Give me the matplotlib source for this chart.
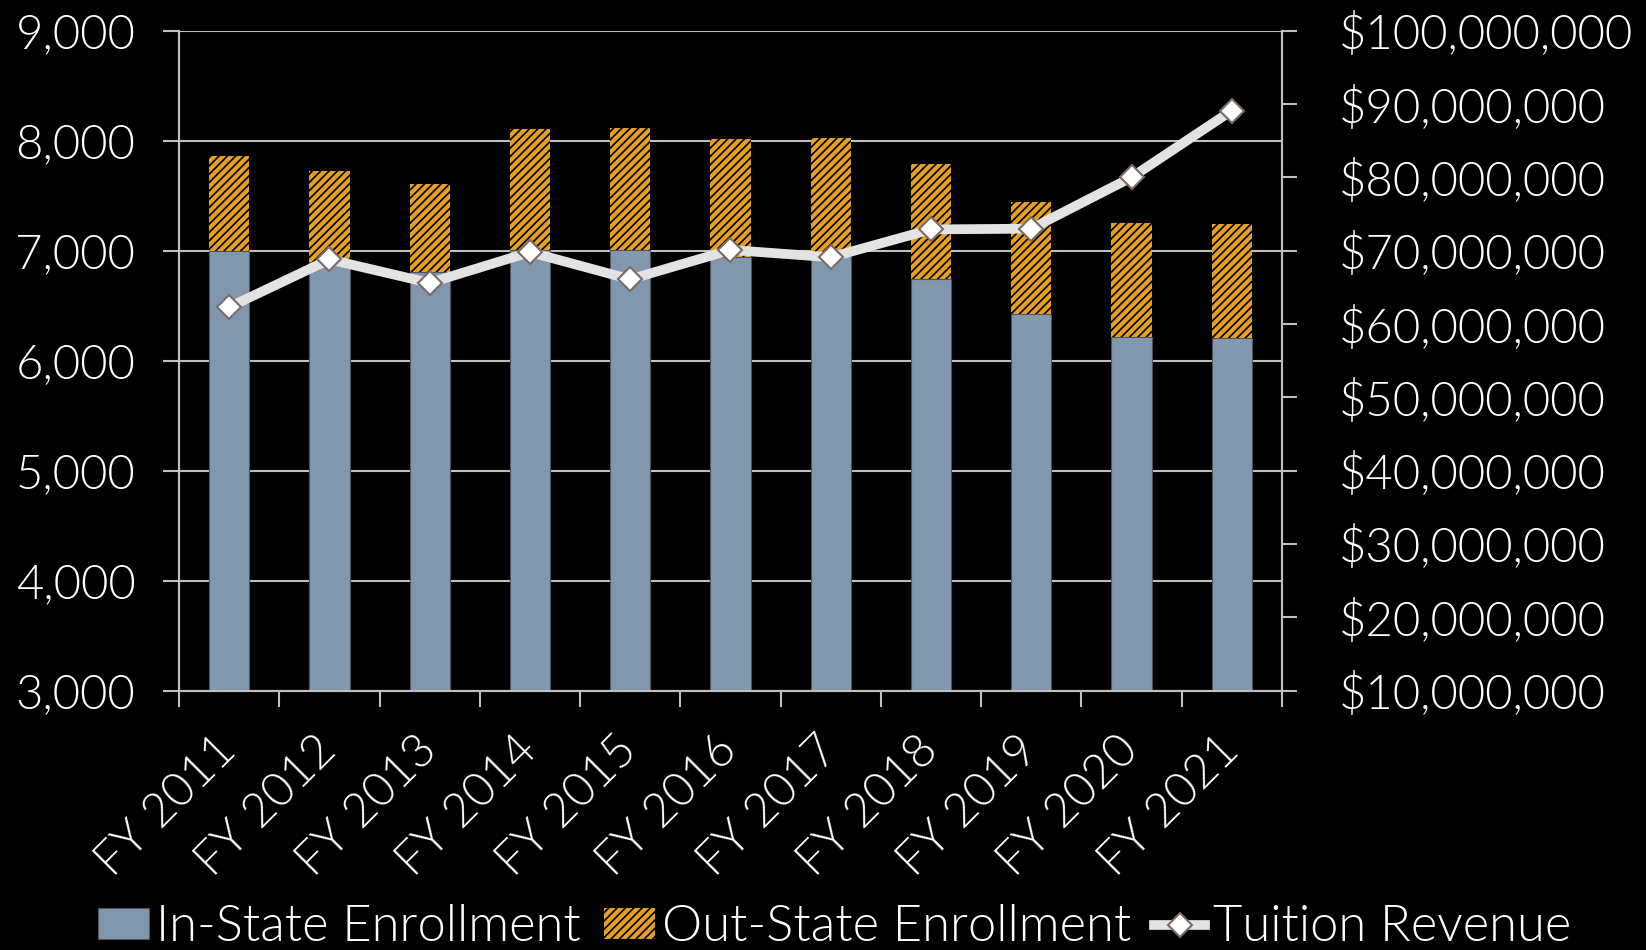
import matplotlib
matplotlib.use('Agg')
import matplotlib.pyplot as plt
from matplotlib.ticker import FuncFormatter, FixedLocator
import numpy as np

plt.rcParams['font.family'] = ['Lato', 'DejaVu Sans']
plt.rcParams['font.weight'] = 300
plt.rcParams['hatch.linewidth'] = 1.2

years = ['FY 2011', 'FY 2012', 'FY 2013', 'FY 2014', 'FY 2015', 'FY 2016',
         'FY 2017', 'FY 2018', 'FY 2019', 'FY 2020', 'FY 2021']
in_state = [7000, 6900, 6810, 7010, 7005, 6940, 6950, 6745, 6425, 6215, 6210]
out_state = [865, 825, 795, 1095, 1108, 1073, 1070, 1045, 1015, 1037, 1033]
# tuition revenue in dollars
revenue = [62.3e6, 68.8e6, 65.6e6, 69.8e6, 66.1e6, 70.1e6, 69.1e6,
           72.9e6, 73.0e6, 80.0e6, 89.1e6]

fs = 34
grid_c = '#BFBFBF'

fig = plt.figure(figsize=(16.46, 9.5), dpi=100, facecolor='black')
ax1 = fig.add_axes([0.1088, 0.273, 0.67, 0.6947], facecolor='black')
ax2 = ax1.twinx()

x = np.arange(len(years))
ax1.bar(x, in_state, width=0.4, color='#8097AD', edgecolor='#4a5560',
        linewidth=0.8, label='In-State Enrollment', zorder=2)
ax1.bar(x, out_state, width=0.4, bottom=in_state, color='#E6A01E',
        edgecolor='black', linewidth=0, hatch='////',
        label='Out-State Enrollment', zorder=2)

ax2.plot(x, revenue, color='#E3E3E3', linewidth=7, marker='D',
         markersize=12.5, markerfacecolor='white', markeredgecolor='#7A6A64',
         markeredgewidth=1.5, label='Tuition Revenue', zorder=3)

ax1.set_xlim(-0.5, len(years) - 0.5)
ax1.set_ylim(3000, 9000)
ax1.set_yticks(range(3000, 9001, 1000))
ax1.yaxis.set_major_formatter(FuncFormatter(lambda v, p: f'{v:,.0f}'))
ax1.grid(axis='y', color=grid_c, linewidth=1.5, zorder=0)
ax1.set_axisbelow(True)

ax2.set_ylim(10e6, 100e6)
ax2.set_yticks(np.arange(10e6, 100e6 + 1, 10e6))
ax2.yaxis.set_major_formatter(FuncFormatter(lambda v, p: f'${v:,.0f}'))

# category labels at centers, tick marks at boundaries
ax1.set_xticks(x)
ax1.set_xticklabels(years, rotation=45, ha='right', va='center',
                    rotation_mode='anchor')
ax1.xaxis.set_minor_locator(FixedLocator(np.arange(-0.5, len(years), 1)))
ax1.tick_params(axis='x', which='major', length=0, pad=38, colors='white',
                labelsize=fs)
ax1.tick_params(axis='x', which='minor', length=11.5, width=1.5, color=grid_c)
ax1.tick_params(axis='y', length=11.5, width=1.5, color=grid_c, pad=20,
                labelcolor='white', labelsize=fs)
ax2.tick_params(axis='y', length=11, width=1.5, color=grid_c, pad=30,
                labelcolor='white', labelsize=fs)

for ax in (ax1, ax2):
    ax.spines['top'].set_visible(False)
    for s in ('left', 'right', 'bottom'):
        ax.spines[s].set_color(grid_c)
        ax.spines[s].set_linewidth(1.5)

h1, l1 = ax1.get_legend_handles_labels()
h2, l2 = ax2.get_legend_handles_labels()
leg = fig.legend(h1 + h2, l1 + l2, loc='center', bbox_to_anchor=(0.507, 0.024),
                 ncol=3, frameon=False, fontsize=36.5, handlelength=1.0,
                 handleheight=0.55, handletextpad=0.15, columnspacing=0.45,
                 borderaxespad=0)
for t in leg.get_texts():
    t.set_color('white')

fig.savefig('out.png', dpi=100, facecolor='black')
